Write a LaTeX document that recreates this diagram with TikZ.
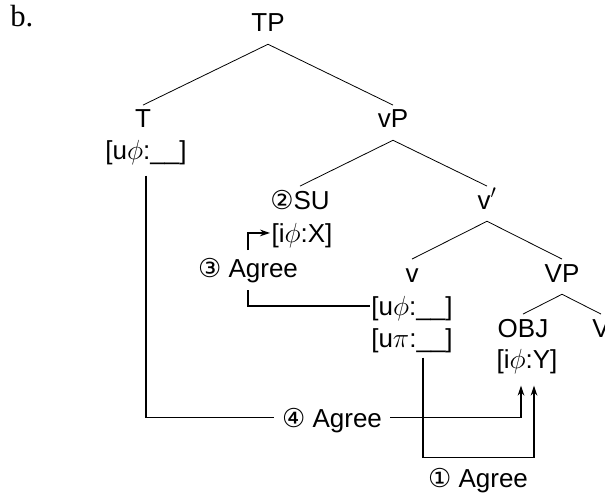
\documentclass[tikz,border=0pt]{standalone}
\usepackage{amsmath}
\usepackage{fontspec}
\setmainfont{Liberation Sans}
\newfontfamily\seriffont{Liberation Serif}
\newfontfamily\circfont{DejaVu Sans}
\usepackage{tikz}
\usetikzlibrary{arrows.meta}
\newcommand{\circnum}[1]{{\circfont #1}}

\begin{document}
\begin{tikzpicture}[x=0.75pt, y=-0.75pt,
  every node/.style={font=\fontsize{19.5pt}{23pt}\selectfont},
  cat/.style={inner sep=0pt, text height=17pt, text depth=9pt, anchor=base},
  feat/.style={inner sep=0pt, inner xsep=1pt, text height=14.6pt, text depth=1pt, anchor=base},
  agr/.style={inner xsep=6pt, inner ysep=6pt, text height=14pt, text depth=0pt, anchor=base},
  branch/.style={line width=0.6pt},
  agree/.style={line width=1pt, -{Stealth[length=7.5pt, width=5pt]}}]
\useasboundingbox (0,0) rectangle (605,495);

% Label
\node[anchor=base west, inner sep=0pt, font=\fontsize{23pt}{27pt}\selectfont] (lbl) at (10,27) {\seriffont b.};

% Tree
\node[cat] (TP) at (268,32) {TP};
\node[cat] (T) at (143,128) {T};
\node[cat] (vP) at (393,128) {vP};
\node[cat] (SU) at (300,209) {\circnum{②}SU};
\node[cat] (vbar) at (487,209) {v$'$};
\node[cat] (v) at (412,282) {v};
\node[cat] (VP) at (562,282) {VP};
\node[cat] (OBJ) at (523,337) {OBJ};
\node[cat] (V) at (601,337) {V};

\draw[branch] (TP.south) -- (T.north);
\draw[branch] (TP.south) -- (vP.north);
\draw[branch] (vP.south) -- (SU.north);
\draw[branch] (vP.south) -- (vbar.north);
\draw[branch] (vbar.south) -- (v.north);
\draw[branch] (vbar.south) -- (VP.north);
\draw[branch] (VP.south) -- (OBJ.north);
\draw[branch] (VP.south) -- (V.north);

% Features
\node[feat] (Tf) at (146,160) {[u$\phi$:\_\_]};
\node[feat] (iX) at (302,242) {[i$\phi$:X]};
\node[feat] (vf1) at (412,315) {[u$\phi$:\_\_]};
\node[feat] (vf2) at (412,347) {[u$\pi$:\_\_]};
\node[feat] (iY) at (527,368) {[i$\phi$:Y]};

% Agree relations
\node[agr] (A3) at (248,277) {\circnum{③} Agree};
\node[agr] (A4) at (332,427) {\circnum{④} Agree};
\node[agr] (A1) at (478,487) {\circnum{①} Agree};

\draw[agree] (A3.north) |- (iX.west);
\draw[line width=1pt] ([shift={(0,5)}]A3.south) |- (vf1.west);
\draw[line width=1pt] ([shift={(0,14)}]Tf.south) |- (A4.west);
\draw[agree] (A4.east) -| ([shift={(-6,16)}]iY.south);
\draw[agree] ([shift={(11,9)}]vf2.south) -- ++(0,100) -| ([shift={(7,16)}]iY.south);
\end{tikzpicture}
\end{document}
